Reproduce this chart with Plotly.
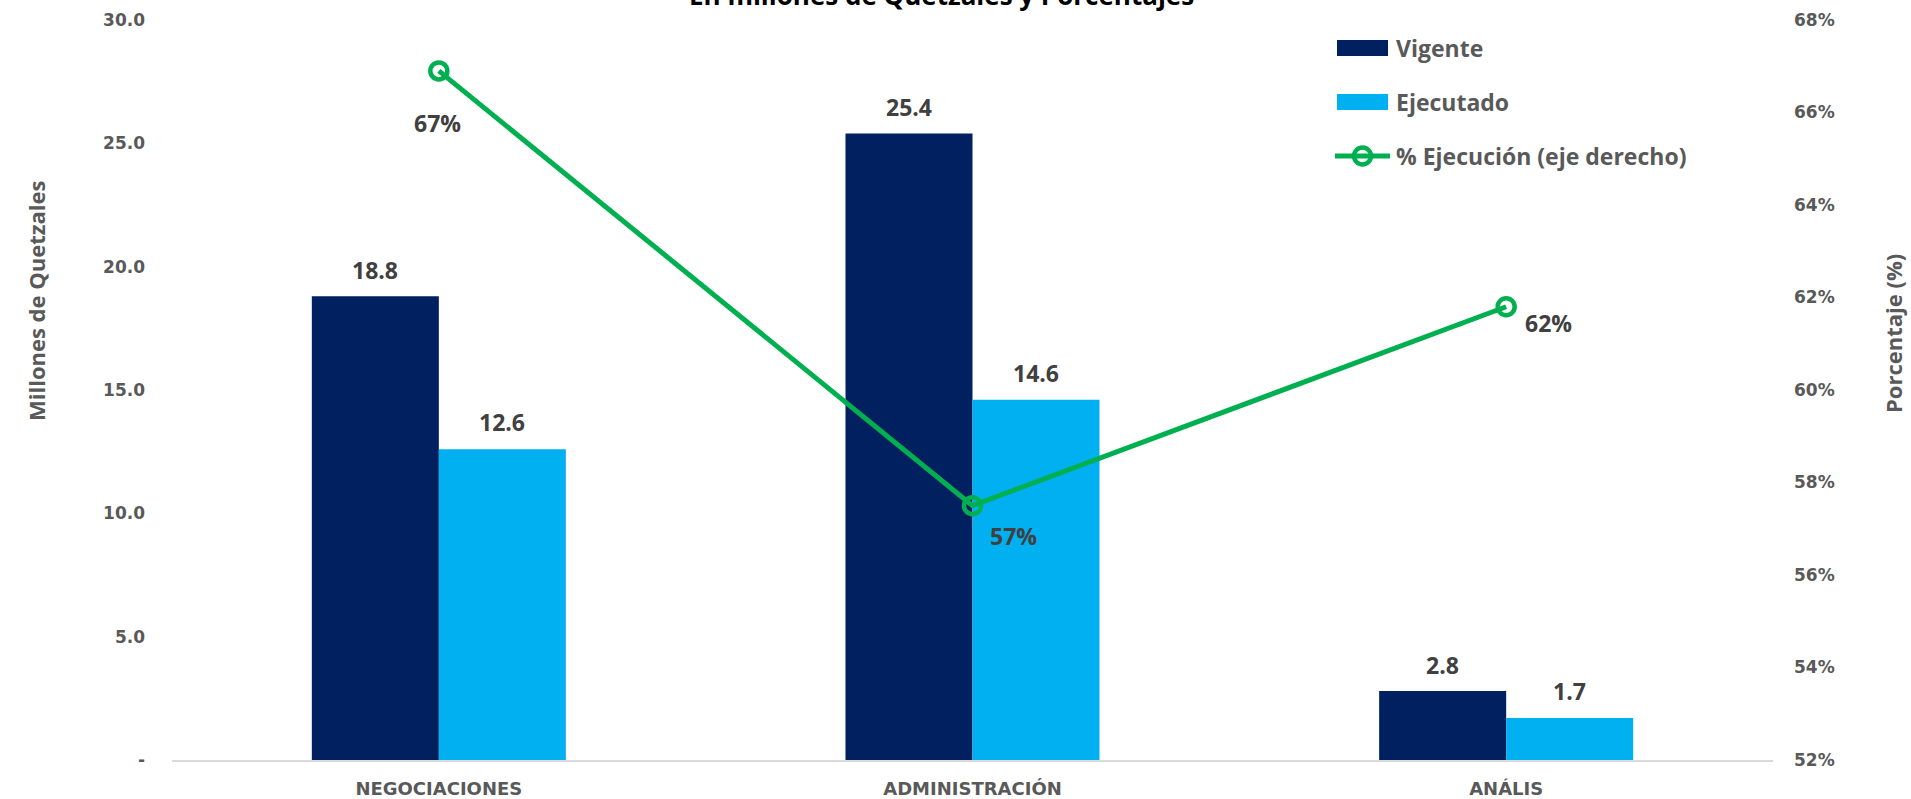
import plotly.graph_objects as go

# ---------------- data ----------------
categories = ["NEGOCIACIONES", "ADMINISTRACIÓN", "ANÁLIS"]
vigente = [18.8, 25.4, 2.8]
ejecutado = [12.6, 14.6, 1.7]
pct_ejecucion = [0.669, 0.575, 0.618]

left_tickvals = [0, 5, 10, 15, 20, 25, 30]
left_ticktext = ["-", "5.0", "10.0", "15.0", "20.0", "25.0", "30.0"]

series_names = ["Vigente", "Ejecutado", "% Ejecución (eje derecho)"]
title_text = "En millones de Quetzales y Porcentajes"
left_title = "Millones de Quetzales"
right_title = "Porcentaje (%)"

# ---------------- layout constants ----------------
W, H = 1911, 799
ML, MR, MT, MB = 172, 138, 20, 39
PW = W - ML - MR
PH = H - MT - MB

C_VIG = "#002060"
C_EJE = "#00B0F0"
C_LINE = "#00B050"
C_TICK = "#595959"
C_LAB = "#404040"

BARGAP = 0.524
half_w = (1 - BARGAP) / 2


def px_x(px):
    return (px - ML) / PW


def px_y(py):
    return (H - MB - py) / PH


fig = go.Figure()

fig.add_trace(go.Bar(x=categories, y=vigente, name=series_names[0],
                     marker=dict(color=C_VIG, line=dict(width=0)), showlegend=False))
fig.add_trace(go.Bar(x=categories, y=ejecutado, name=series_names[1],
                     marker=dict(color=C_EJE, line=dict(width=0)), showlegend=False))
fig.add_trace(go.Scatter(x=categories, y=pct_ejecucion, name=series_names[2], yaxis="y2",
                         mode="lines+markers",
                         line=dict(color=C_LINE, width=5),
                         marker=dict(symbol="circle-open", size=17, color=C_LINE,
                                     line=dict(width=4.5, color=C_LINE)),
                         showlegend=False))

annotations = []
lab_font = dict(family="Open Sans", size=23, color=C_LAB, weight="bold")

# bar value labels
for i, (v, e) in enumerate(zip(vigente, ejecutado)):
    annotations.append(dict(x=i - half_w / 2, y=v, xref="x", yref="y", text=f"{v:.1f}",
                            showarrow=False, yanchor="middle", yshift=26, font=lab_font))
    annotations.append(dict(x=i + half_w / 2, y=e, xref="x", yref="y", text=f"{e:.1f}",
                            showarrow=False, yanchor="middle", yshift=27, font=lab_font))

# line labels
line_shifts = [(-1, -52), (41, -30), (42, -16)]
for i, (p, (dx, dy)) in enumerate(zip(pct_ejecucion, line_shifts)):
    annotations.append(dict(x=i, y=p, xref="x", yref="y2", text=f"{p:.0%}",
                            showarrow=False, xshift=dx, yshift=dy, font=lab_font))

# title
annotations.append(dict(x=px_x(941), y=px_y(15), xref="paper", yref="paper",
                        text=title_text, showarrow=False, xanchor="center", yanchor="bottom",
                        font=dict(family="Open Sans", size=26, color="#000000", weight="bold")))

# axis titles
ax_font = dict(family="Open Sans", size=22, color=C_TICK, weight="bold")
annotations.append(dict(x=px_x(36), y=px_y(301), xref="paper", yref="paper", text=left_title,
                        textangle=-90, showarrow=False, xanchor="center", yanchor="middle",
                        font=ax_font))
annotations.append(dict(x=px_x(1893), y=px_y(334), xref="paper", yref="paper", text=right_title,
                        textangle=-90, showarrow=False, xanchor="center", yanchor="middle",
                        font=ax_font))

# manual legend
leg_font = dict(family="Open Sans", size=23, color=C_TICK, weight="bold")
shapes = []
leg_y = [48, 102, 156]
shapes.append(dict(type="rect", xref="paper", yref="paper", x0=px_x(1337), x1=px_x(1388),
                   y0=px_y(leg_y[0] - 8), y1=px_y(leg_y[0] + 8), fillcolor=C_VIG, line=dict(width=0)))
shapes.append(dict(type="rect", xref="paper", yref="paper", x0=px_x(1337), x1=px_x(1388),
                   y0=px_y(leg_y[1] - 8), y1=px_y(leg_y[1] + 8), fillcolor=C_EJE, line=dict(width=0)))
shapes.append(dict(type="line", xref="paper", yref="paper", x0=px_x(1335), x1=px_x(1390),
                   y0=px_y(leg_y[2]), y1=px_y(leg_y[2]), line=dict(color=C_LINE, width=5)))
shapes.append(dict(type="circle", xref="paper", yref="paper", x0=px_x(1354), x1=px_x(1371),
                   y0=px_y(leg_y[2] - 8.5), y1=px_y(leg_y[2] + 8.5), fillcolor="rgba(0,0,0,0)",
                   line=dict(color=C_LINE, width=4.5)))
for name, yy in zip(series_names, leg_y):
    annotations.append(dict(x=px_x(1394), y=px_y(yy), xref="paper", yref="paper", text=name,
                            showarrow=False, xanchor="left", yanchor="middle", font=leg_font))

tick_font = dict(family="DejaVu Sans", size=17, color=C_TICK, weight="bold")

fig.update_layout(
    width=W, height=H,
    margin=dict(l=ML, r=MR, t=MT, b=MB, pad=0, autoexpand=False),
    paper_bgcolor="white", plot_bgcolor="white",
    barmode="group", bargap=BARGAP, bargroupgap=0,
    showlegend=False,
    xaxis=dict(type="category", showline=True, linecolor="#D9D9D9", linewidth=2,
               showgrid=False, ticks="", tickfont=dict(family="DejaVu Sans", size=18,
                                                       color=C_TICK, weight="bold"),
               ticklabelstandoff=11, zeroline=False, automargin=False),
    yaxis=dict(range=[0, 30], tickvals=left_tickvals, ticktext=left_ticktext,
               showgrid=False, zeroline=False, showline=False, ticks="",
               tickfont=tick_font, ticklabelstandoff=26, automargin=False),
    yaxis2=dict(range=[0.52, 0.68], overlaying="y", side="right", tick0=0.52, dtick=0.02,
                tickformat=".0%", showgrid=False, zeroline=False, showline=False, ticks="",
                tickfont=tick_font, ticklabelstandoff=20, automargin=False),
    annotations=annotations,
    shapes=shapes,
)

fig.write_html("out.html", config={"displayModeBar": False},
               post_script="document.body.style.margin='0';document.body.style.overflow='hidden';")
